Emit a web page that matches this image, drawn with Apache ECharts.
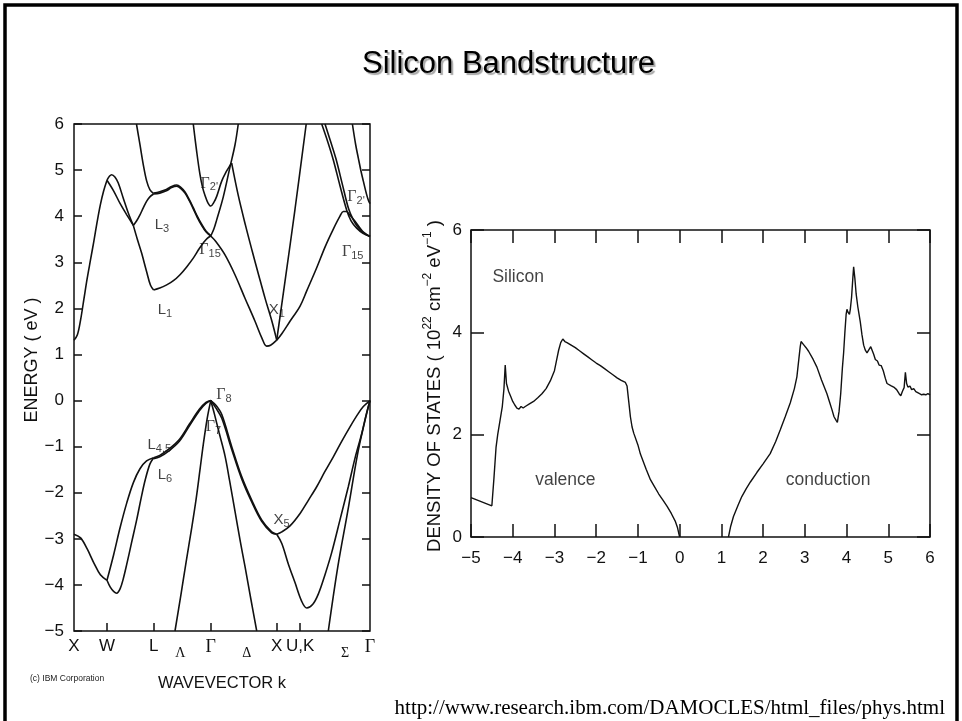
<!DOCTYPE html>
<html>
<head>
<meta charset="utf-8">
<script src="https://cdn.jsdelivr.net/npm/echarts@6/dist/echarts.min.js"></script>
<style>
  html, body { margin: 0; padding: 0; background: #fff; }
  #chart { width: 962px; height: 721px; }
</style>
</head>
<body>
<div id="chart"></div>
<script>
// ---- Band structure: k-path X–W–L–Γ–X–U,K–Γ (units of 2π/a) ----
const kEnd = 4.487;
const kTickPos = [0.5, 1.207, 2.073, 3.073, 3.427];
const kLabelPos = [0, 0.5, 1.207, 1.61, 2.073, 2.62, 3.073, 3.427, 4.11, 4.487];
const kLabelText = ['X', 'W', 'L', 'Λ', 'Γ', 'Δ', 'X', 'U,K', 'Σ', 'Γ'];
const lineNames = ['Λ', 'Δ', 'Σ'];

// Each band: list of segments [k, E(eV)], split at kinks
const band2 = [
  [[1.531,-5.0],[1.62,-4.22],[1.70,-3.5],[1.78,-2.8],[1.85,-2.15],[1.91,-1.5],[1.96,-0.95],[2.02,-0.38],[2.073,0]],
  [[2.073,0],[2.13,-0.3],[2.2,-0.7],[2.289,-1.2],[2.36,-1.75],[2.44,-2.4],[2.52,-3.05],[2.592,-3.6],[2.68,-4.3],[2.77,-5.0]],
  [[3.855,-5.0],[4.0,-3.6],[4.15,-2.4],[4.3,-1.15],[4.4,-0.5],[4.487,0]]
];
const band3 = [
  [[0.5,-3.9],[0.55,-4.05],[0.6,-4.14],[0.647,-4.18],[0.7,-4.08],[0.75,-3.85],[0.8,-3.55],[0.87,-3.1],[0.95,-2.59],[1.02,-2.1],[1.08,-1.72],[1.15,-1.38],[1.207,-1.24]],
  [[1.207,-1.26],[1.3,-1.22],[1.45,-1.08],[1.6,-0.88],[1.75,-0.55],[1.9,-0.22],[2.0,-0.06],[2.073,0]],
  [[2.073,0],[2.15,-0.16],[2.239,-0.38],[2.391,-1.06],[2.542,-1.7],[2.694,-2.2],[2.845,-2.62],[2.997,-2.87],[3.073,-2.9]],
  [[3.073,-2.9],[3.15,-3.1],[3.25,-3.55],[3.35,-3.95],[3.45,-4.35],[3.528,-4.5],[3.62,-4.42],[3.703,-4.2],[3.8,-3.8],[3.906,-3.3],[4.03,-2.6],[4.158,-1.87],[4.26,-1.25],[4.361,-0.72],[4.43,-0.3],[4.487,0]]
];
const band4 = [
  [[0,-2.9],[0.1,-2.98],[0.2,-3.22],[0.3,-3.52],[0.4,-3.78],[0.5,-3.9]],
  [[0.5,-3.9],[0.6,-3.35],[0.7,-2.75],[0.8,-2.22],[0.9,-1.78],[1.0,-1.48],[1.1,-1.31],[1.207,-1.24]],
  [[1.207,-1.24],[1.3,-1.19],[1.45,-1.04],[1.6,-0.84],[1.75,-0.51],[1.9,-0.19],[2.0,-0.04],[2.073,0]],
  [[2.073,0],[2.15,-0.1],[2.239,-0.3],[2.391,-1.0],[2.542,-1.65],[2.694,-2.16],[2.845,-2.59],[2.997,-2.85],[3.073,-2.9]],
  [[3.073,-2.9],[3.15,-2.85],[3.274,-2.72],[3.427,-2.45],[3.55,-2.17],[3.679,-1.87],[3.8,-1.55],[3.931,-1.22],[4.06,-0.88],[4.184,-0.57],[4.3,-0.3],[4.386,-0.13],[4.487,0]]
];
const band5 = [
  [[0,1.31],[0.05,1.42],[0.1,1.75],[0.15,2.2],[0.2,2.65],[0.25,3.05],[0.3,3.45],[0.35,3.87],[0.4,4.25],[0.45,4.55],[0.5,4.78]],
  [[0.5,4.78],[0.6,4.55],[0.7,4.27],[0.8,4.03],[0.899,3.80]],
  [[0.899,3.80],[0.96,3.5],[1.025,3.2],[1.1,2.8],[1.16,2.5],[1.207,2.40]],
  [[1.207,2.40],[1.3,2.44],[1.405,2.51],[1.507,2.6],[1.607,2.73],[1.708,2.9],[1.808,3.09],[1.9,3.3],[1.96,3.42],[2.02,3.52],[2.073,3.57]],
  [[2.073,3.57],[2.15,3.45],[2.289,3.16],[2.44,2.73],[2.592,2.22],[2.744,1.72],[2.85,1.35],[2.921,1.18],[2.98,1.2],[3.073,1.31]],
  [[3.073,1.31],[3.15,1.45],[3.274,1.72],[3.427,2.05],[3.528,2.38],[3.679,2.88],[3.805,3.33],[3.931,3.72],[4.032,4.0],[4.082,4.1],[4.13,4.1],[4.184,4.02],[4.26,3.89],[4.37,3.68],[4.44,3.6],[4.487,3.56]]
];
const band6 = [
  [[0.5,4.78],[0.54,4.87],[0.571,4.9],[0.62,4.85],[0.671,4.72],[0.747,4.39],[0.823,4.07],[0.899,3.80]],
  [[0.899,3.80],[0.95,3.9],[1.0,4.03],[1.05,4.18],[1.1,4.32],[1.15,4.42],[1.207,4.48]],
  [[1.207,4.48],[1.3,4.5],[1.4,4.55],[1.48,4.62],[1.557,4.65],[1.62,4.6],[1.683,4.5],[1.75,4.33],[1.808,4.16],[1.87,3.97],[1.935,3.8],[2.0,3.66],[2.073,3.57]],
  [[2.073,3.57],[2.12,3.72],[2.163,3.92],[2.263,4.42],[2.365,5.07],[2.441,5.55],[2.49,6.0]]
];
const band7 = [
  [[0.947,6.0],[1.0,5.55],[1.05,5.12],[1.102,4.76],[1.152,4.57],[1.207,4.49]],
  [[1.207,4.50],[1.3,4.53],[1.4,4.58],[1.48,4.645],[1.557,4.675],[1.62,4.625],[1.683,4.525],[1.75,4.355],[1.808,4.185],[1.87,3.995],[1.935,3.825],[2.0,3.68],[2.073,3.58]]
];
const band8 = [
  [[1.808,6.0],[1.859,5.41],[1.91,4.90],[1.95,4.62],[1.986,4.45],[2.03,4.29],[2.073,4.22],[2.12,4.3],[2.163,4.43],[2.239,4.76],[2.31,4.97],[2.365,5.1],[2.39,5.15]],
  [[2.39,5.15],[2.49,4.45],[2.6,3.8],[2.7,3.25],[2.8,2.72],[2.9,2.2],[3.0,1.72],[3.073,1.31]],
  [[3.073,1.31],[3.2,2.6],[3.35,4.15],[3.52,6.0]]
];
const bandSigma = [
  [[3.755,6.0],[3.85,5.6],[3.931,5.22],[4.032,4.66],[4.134,4.13],[4.2,3.9],[4.285,3.74],[4.38,3.63],[4.487,3.56]],
  [[3.805,6.0],[3.89,5.62],[3.97,5.25],[4.07,4.68],[4.16,4.17],[4.23,3.93],[4.3,3.77],[4.39,3.64],[4.487,3.56]],
  [[4.22,6.0],[4.27,5.55],[4.31,5.26],[4.35,4.98],[4.386,4.76],[4.43,4.5],[4.461,4.35],[4.487,4.27]]
];

// Critical-point labels
const bandLabelK = [1.334, 2.051, 2.062, 1.379, 3.073, 4.275, 4.225, 2.274, 2.112, 1.293, 1.379, 3.148];
const bandLabelE = [3.81, 4.71, 3.27, 1.96, 1.96, 4.42, 3.23, 0.12, -0.57, -0.97, -1.62, -2.59];
const bandLabelMain = ['L', 'Γ', 'Γ', 'L', 'X', 'Γ', 'Γ', 'Γ', 'Γ', 'L', 'L', 'X'];
const bandLabelSub = ['3', "2'", '15', '1', '1', "2'", '15', '8', '7', '4,5', '6', '5'];

// ---- Density of states (10^22 cm^-2 eV^-1) ----
const dosValenceE = [-5.0,-4.5,-4.45,-4.4,-4.36,-4.3,-4.25,-4.21,-4.18,-4.15,-4.1,-4.05,-4.0,-3.95,-3.9,-3.85,-3.8,-3.75,-3.7,-3.6,-3.5,-3.4,-3.3,-3.2,-3.1,-3.0,-2.95,-2.9,-2.85,-2.8,-2.75,-2.7,-2.6,-2.5,-2.4,-2.3,-2.2,-2.1,-2.0,-1.9,-1.8,-1.7,-1.6,-1.5,-1.4,-1.3,-1.26,-1.22,-1.18,-1.14,-1.1,-1.0,-0.94,-0.8,-0.7,-0.6,-0.5,-0.4,-0.3,-0.2,-0.1,-0.05,0];
const dosValenceN = [0.77,0.61,1.15,1.75,2.0,2.3,2.55,2.9,3.36,3.0,2.85,2.75,2.65,2.58,2.52,2.5,2.55,2.52,2.55,2.6,2.65,2.72,2.8,2.9,3.05,3.25,3.45,3.65,3.8,3.87,3.82,3.8,3.75,3.7,3.64,3.58,3.52,3.46,3.4,3.35,3.29,3.23,3.17,3.11,3.06,3.02,2.95,2.65,2.35,2.15,2.03,1.8,1.62,1.32,1.12,0.98,0.84,0.72,0.6,0.46,0.3,0.18,0];
const dosConductionE = [1.17,1.22,1.29,1.4,1.49,1.6,1.7,1.85,2.0,2.17,2.3,2.41,2.53,2.65,2.75,2.81,2.86,2.89,2.91,2.97,3.03,3.09,3.2,3.29,3.4,3.53,3.6,3.65,3.7,3.75,3.78,3.82,3.86,3.9,3.93,3.96,3.99,4.01,4.03,4.07,4.09,4.12,4.15,4.17,4.2,4.23,4.27,4.3,4.33,4.37,4.41,4.45,4.49,4.53,4.58,4.61,4.65,4.69,4.74,4.78,4.83,4.88,4.93,4.97,5.01,5.06,5.13,5.2,5.26,5.3,5.34,5.38,5.41,5.44,5.47,5.52,5.56,5.61,5.66,5.7,5.75,5.8,5.85,5.9,5.95,6.0];
const dosConductionN = [0,0.2,0.4,0.62,0.79,0.95,1.08,1.26,1.43,1.63,1.86,2.09,2.35,2.62,2.9,3.13,3.5,3.72,3.82,3.76,3.7,3.63,3.47,3.32,3.07,2.8,2.62,2.49,2.35,2.28,2.24,2.45,2.8,3.3,3.6,4.0,4.35,4.45,4.4,4.35,4.45,4.68,5.05,5.28,5.05,4.75,4.5,4.35,4.2,3.95,3.75,3.65,3.6,3.63,3.72,3.75,3.57,3.47,3.44,3.36,3.35,3.25,3.1,3.0,2.99,2.96,2.93,2.88,2.8,2.76,2.85,2.92,3.22,3.0,2.93,2.95,2.88,2.9,2.84,2.86,2.8,2.78,2.79,2.78,2.8,2.78];
const dosLabelX = [-3.87, -2.74, 3.56];
const dosLabelY = [5.08, 1.11, 1.11];
const dosLabelText = ['Silicon', 'valence', 'conduction'];

// ---- Drawing ----
const INK = '#111';
const SANS = 'Liberation Sans';
const SERIF = 'Liberation Serif';
const minus = v => String(v).replace('-', '\u2212');

const chart = echarts.init(document.getElementById('chart'));

const series = [];
[band2, band3, band4, band5, band6, band7, band8, bandSigma].forEach(band => {
  band.forEach(seg => series.push({
    type: 'line', xAxisIndex: 0, yAxisIndex: 0, data: seg,
    showSymbol: false, smooth: 0.35, silent: true, z: 3,
    lineStyle: { color: INK, width: 1.6 }
  }));
});

series.push({
  type: 'scatter', xAxisIndex: 0, yAxisIndex: 0, silent: true, z: 5,
  symbolSize: 1, itemStyle: { color: 'transparent' },
  data: bandLabelK.map((k, i) => [k, bandLabelE[i]]),
  label: {
    show: true, position: 'inside',
    formatter: p => {
      const m = bandLabelMain[p.dataIndex];
      return '{' + (m === 'Γ' ? 'g' : 't') + '|' + m + '}{s|' + bandLabelSub[p.dataIndex] + '}';
    },
    rich: {
      t: { fontFamily: SANS, fontSize: 15, color: '#111', lineHeight: 19, verticalAlign: 'middle' },
      g: { fontFamily: SERIF, fontSize: 16, color: '#111', lineHeight: 19, verticalAlign: 'middle' },
      s: { fontFamily: SANS, fontSize: 11, color: '#111', lineHeight: 19, verticalAlign: 'bottom' }
    }
  }
});

series.push({
  type: 'line', xAxisIndex: 1, yAxisIndex: 2, silent: true, showSymbol: false, z: 3,
  data: dosValenceE.map((e, i) => [e, dosValenceN[i]]),
  lineStyle: { color: INK, width: 1.4 }
});
series.push({
  type: 'line', xAxisIndex: 1, yAxisIndex: 2, silent: true, showSymbol: false, z: 3,
  data: dosConductionE.map((e, i) => [e, dosConductionN[i]]),
  lineStyle: { color: INK, width: 1.4 }
});
series.push({
  type: 'scatter', xAxisIndex: 1, yAxisIndex: 2, silent: true, z: 5,
  symbolSize: 1, itemStyle: { color: 'transparent' },
  data: dosLabelX.map((x, i) => [x, dosLabelY[i]]),
  label: {
    show: true, position: 'inside',
    formatter: p => dosLabelText[p.dataIndex],
    fontFamily: SANS, fontSize: 17.5, color: INK
  }
});

const tickStyle = { color: INK, width: 1.5 };
const noLine = { show: false, onZero: false };

const option = {
  animation: false,
  title: {
    text: 'Silicon Bandstructure', left: 357, top: 44,
    textStyle: {
      fontFamily: SANS, fontSize: 31, fontWeight: 'normal', color: '#000',
      textShadowColor: 'rgba(0,0,0,0.35)', textShadowBlur: 1,
      textShadowOffsetX: 2, textShadowOffsetY: 2
    }
  },
  grid: [
    { left: 74, top: 124, width: 296, height: 507, show: true, borderColor: INK, borderWidth: 1.5, backgroundColor: 'transparent' },
    { left: 471, top: 230, width: 459, height: 307, show: true, borderColor: INK, borderWidth: 1.5, backgroundColor: 'transparent' }
  ],
  xAxis: [
    {
      gridIndex: 0, type: 'value', min: 0, max: kEnd, position: 'bottom',
      axisLine: noLine, splitLine: { show: false },
      axisTick: { inside: true, length: 8, customValues: kTickPos, lineStyle: tickStyle },
      axisLabel: {
        customValues: kLabelPos, margin: 7,
        formatter: v => {
          const i = kLabelPos.findIndex(p => Math.abs(p - v) < 1e-6);
          if (i < 0) return '';
          const t = kLabelText[i];
          if (lineNames.includes(t)) return '{line|' + t + '}';
          if (t === 'Γ') return '{greek|Γ}';
          return '{sans|' + t + '}';
        },
        rich: {
          sans: { fontFamily: SANS, fontSize: 17, color: INK, lineHeight: 22, verticalAlign: 'top' },
          greek: { fontFamily: SERIF, fontSize: 18, color: INK, lineHeight: 22, verticalAlign: 'top' },
          line: { fontFamily: SERIF, fontSize: 14, color: INK, lineHeight: 22, verticalAlign: 'bottom' }
        }
      },
      name: 'WAVEVECTOR k', nameLocation: 'middle', nameGap: 44,
      nameTextStyle: { fontFamily: SANS, fontSize: 16.5, color: INK }
    },
    {
      gridIndex: 1, type: 'value', min: -5, max: 6, interval: 1, position: 'bottom',
      axisLine: noLine, splitLine: { show: false },
      axisTick: { inside: true, length: 13, lineStyle: tickStyle },
      axisLabel: { formatter: minus, fontFamily: SANS, fontSize: 17, color: INK, margin: 13 }
    },
    {
      gridIndex: 1, type: 'value', min: -5, max: 6, interval: 1, position: 'top',
      axisLine: noLine, splitLine: { show: false },
      axisTick: { inside: true, length: 13, lineStyle: tickStyle },
      axisLabel: { show: false }
    }
  ],
  yAxis: [
    {
      gridIndex: 0, type: 'value', min: -5, max: 6, interval: 1, position: 'left',
      axisLine: noLine, splitLine: { show: false },
      axisTick: { inside: true, length: 8, lineStyle: tickStyle },
      axisLabel: { formatter: minus, fontFamily: SANS, fontSize: 17, color: INK, margin: 10 }
    },
    {
      gridIndex: 0, type: 'value', min: -5, max: 6, interval: 1, position: 'right',
      axisLine: noLine, splitLine: { show: false },
      axisTick: { inside: true, length: 8, lineStyle: tickStyle },
      axisLabel: { show: false }
    },
    {
      gridIndex: 1, type: 'value', min: 0, max: 6, interval: 2, position: 'left',
      axisLine: noLine, splitLine: { show: false },
      axisTick: { inside: true, length: 13, lineStyle: tickStyle },
      axisLabel: { fontFamily: SANS, fontSize: 17, color: INK, margin: 9 }
    },
    {
      gridIndex: 1, type: 'value', min: 0, max: 6, interval: 2, position: 'right',
      axisLine: noLine, splitLine: { show: false },
      axisTick: { inside: true, length: 13, lineStyle: tickStyle },
      axisLabel: { show: false }
    }
  ],
  graphic: [
    { type: 'rect', silent: true, shape: { x: 5, y: 5, width: 952, height: 800 },
      style: { fill: 'none', stroke: '#000', lineWidth: 3.5 } },
    { type: 'text', silent: true, x: 32, y: 360, rotation: Math.PI / 2,
      style: { text: 'ENERGY ( eV )', font: '18px "Liberation Sans"', fill: INK, align: 'center', verticalAlign: 'middle' } },
    { type: 'text', silent: true, x: 433, y: 386, rotation: Math.PI / 2,
      style: {
        text: '{a|DENSITY OF STATES ( 10}{b|22}{a| cm}{b|\u22122}{a| eV}{b|\u22121}{a| )}',
        align: 'center', verticalAlign: 'middle',
        rich: {
          a: { fontFamily: SANS, fontSize: 18.5, fill: INK, lineHeight: 22, verticalAlign: 'bottom' },
          b: { fontFamily: SANS, fontSize: 12, fill: INK, lineHeight: 22, verticalAlign: 'top' }
        }
      } },
    { type: 'text', silent: true, x: 30, y: 679,
      style: { text: '(c) IBM Corporation', font: '8.5px "Liberation Sans"', fill: '#222', verticalAlign: 'middle' } },
    { type: 'text', silent: true, x: 945, y: 708,
      style: { text: 'http://www.research.ibm.com/DAMOCLES/html_files/phys.html', font: '21px "Liberation Serif"', fill: '#000', align: 'right', verticalAlign: 'middle' } }
  ],
  series: series
};

chart.setOption(option);
</script>
</body>
</html>
